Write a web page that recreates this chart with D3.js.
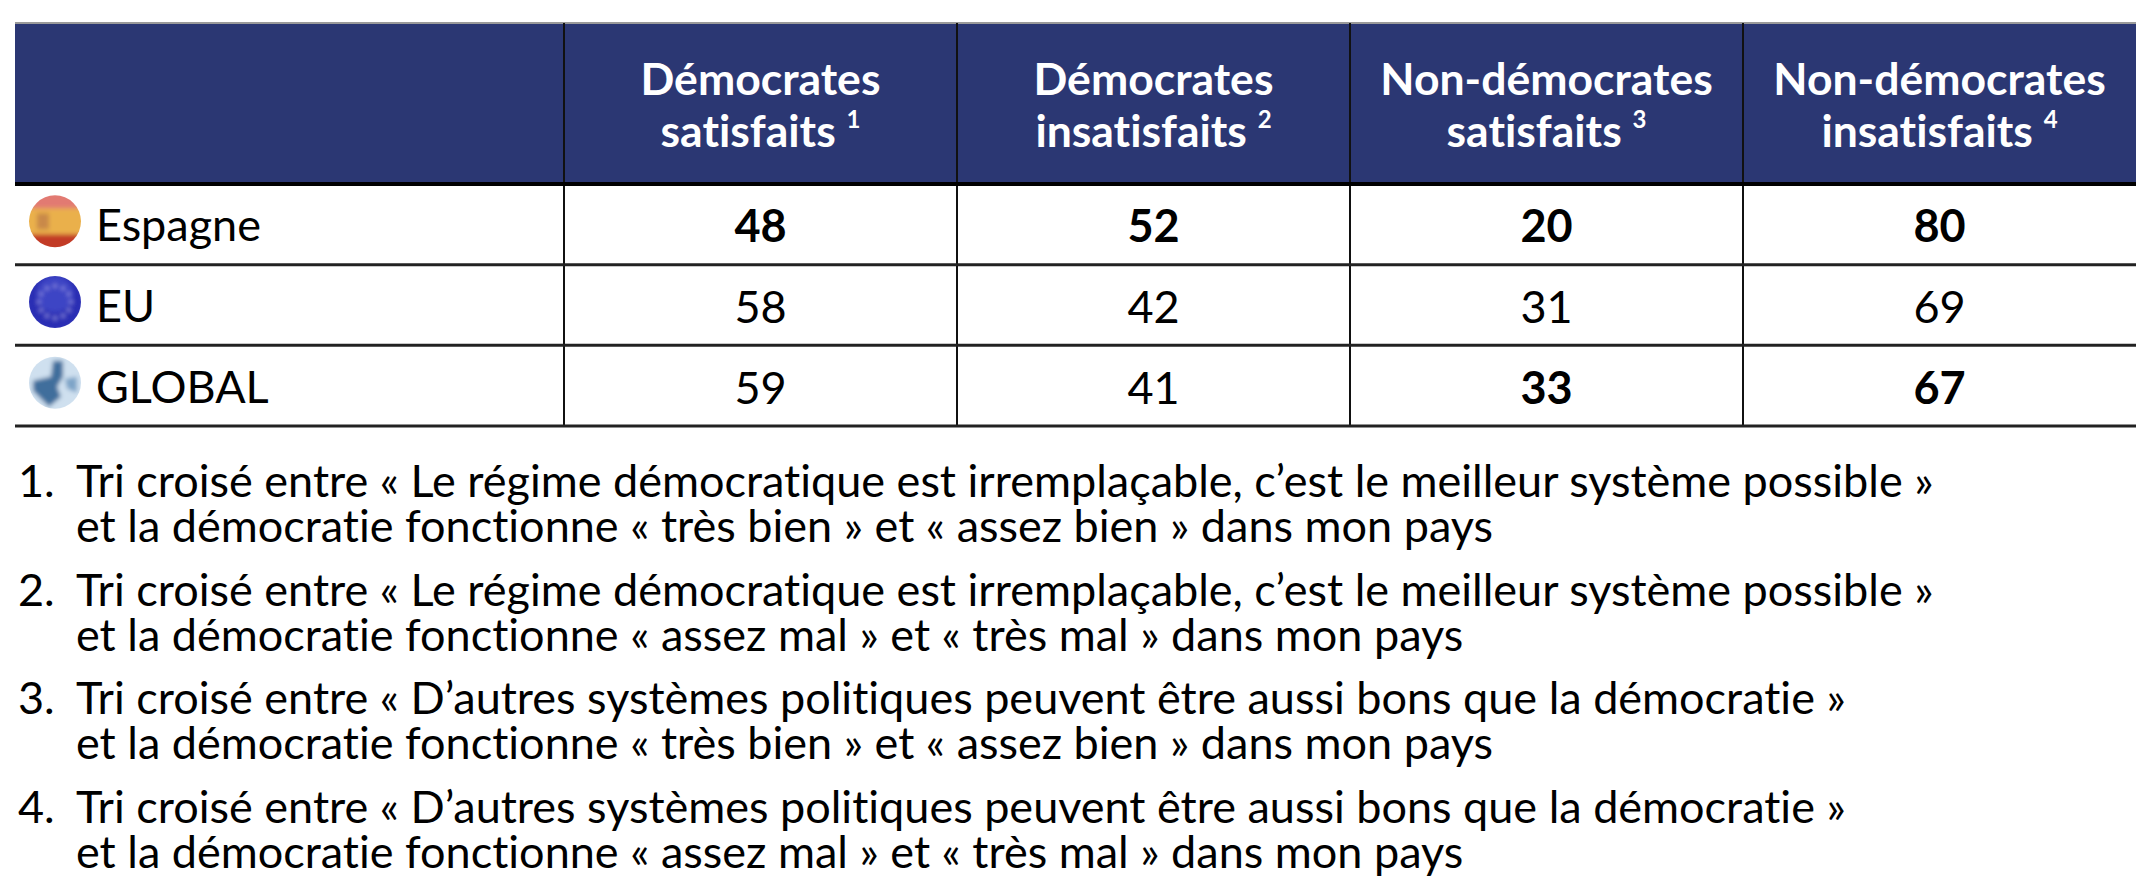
<!DOCTYPE html>
<html>
<head>
<meta charset="utf-8">
<script src="https://cdn.jsdelivr.net/npm/d3@7"></script>
<style>
  html, body { margin: 0; padding: 0; background: #fff; }
  text { font-family: Lato, "Noto Sans", sans-serif; font-variant-ligatures: none; }
</style>
</head>
<body>
<svg id="chart" width="2154" height="896"></svg>
<script>
// column headers (two lines each) and their footnote marks
var headerLine1 = ["Démocrates", "Démocrates", "Non-démocrates", "Non-démocrates"];
var headerLine2 = ["satisfaits", "insatisfaits", "satisfaits", "insatisfaits"];
var headerNotes = ["1", "2", "3", "4"];

var countries = ["Espagne", "EU", "GLOBAL"];

// values per column, one entry per country
var demSatisfaits = [48, 58, 59];
var demInsatisfaits = [52, 42, 41];
var nonDemSatisfaits = [20, 31, 33];
var nonDemInsatisfaits = [80, 69, 67];

// which cells are printed in bold
var boldEspagne = [true, true, true, true];
var boldEU = [false, false, false, false];
var boldGlobal = [false, false, true, true];

var footnotes = [
  ["Tri croisé entre « Le régime démocratique est irremplaçable, c’est le meilleur système possible »",
   "et la démocratie fonctionne « très bien » et « assez bien » dans mon pays"],
  ["Tri croisé entre « Le régime démocratique est irremplaçable, c’est le meilleur système possible »",
   "et la démocratie fonctionne « assez mal » et « très mal » dans mon pays"],
  ["Tri croisé entre « D’autres systèmes politiques peuvent être aussi bons que la démocratie »",
   "et la démocratie fonctionne « très bien » et « assez bien » dans mon pays"],
  ["Tri croisé entre « D’autres systèmes politiques peuvent être aussi bons que la démocratie »",
   "et la démocratie fonctionne « assez mal » et « très mal » dans mon pays"]
];

var series = [demSatisfaits, demInsatisfaits, nonDemSatisfaits, nonDemInsatisfaits];
var bolds = [boldEspagne, boldEU, boldGlobal];

var cells = [];
countries.forEach(function(c, i) {
  series.forEach(function(s, j) {
    cells.push({country: c, col: j, value: s[i], bold: bolds[i][j]});
  });
});

var svg = d3.select("#chart");
var navy = "#2b3773";

var tLeft = 15, tRight = 2136, firstColRight = 564;
var tTop = 23, headerBottom = 184, tableBottom = 426;

var x = d3.scaleBand().domain(d3.range(4)).range([firstColRight, tRight]);
var y = d3.scaleBand().domain(countries).range([headerBottom, tableBottom]);

// header band
svg.append("rect")
  .attr("x", tLeft).attr("y", tTop)
  .attr("width", tRight - tLeft).attr("height", headerBottom - tTop)
  .attr("fill", navy);

svg.append("line")
  .attr("x1", tLeft).attr("x2", tRight).attr("y1", tTop).attr("y2", tTop)
  .attr("stroke", "#9a9a9a").attr("stroke-width", 2);

// column separators
svg.selectAll(".vsep")
  .data(d3.range(4))
  .enter()
  .append("line")
    .attr("x1", function(d) { return x(d); })
    .attr("x2", function(d) { return x(d); })
    .attr("y1", tTop).attr("y2", tableBottom)
    .attr("stroke", "#111").attr("stroke-width", 2);

// row separators
svg.selectAll(".hsep")
  .data(countries)
  .enter()
  .append("line")
    .attr("x1", tLeft).attr("x2", tRight)
    .attr("y1", function(d) { return y(d) + y.bandwidth(); })
    .attr("y2", function(d) { return y(d) + y.bandwidth(); })
    .attr("stroke", "#222").attr("stroke-width", 3);

svg.append("line")
  .attr("x1", tLeft).attr("x2", tRight).attr("y1", headerBottom).attr("y2", headerBottom)
  .attr("stroke", "#000").attr("stroke-width", 4);

// header labels
var head = svg.selectAll(".head")
  .data(d3.range(4))
  .enter()
  .append("g")
    .attr("transform", function(d) { return "translate(" + (x(d) + x.bandwidth() / 2) + ",0)"; });

head.append("text")
  .attr("y", 95)
  .attr("text-anchor", "middle")
  .attr("fill", "#fff")
  .attr("font-weight", "bold")
  .attr("font-size", 44.5)
  .text(function(d) { return headerLine1[d]; });

var l2 = head.append("text")
  .attr("y", 147)
  .attr("text-anchor", "middle")
  .attr("fill", "#fff")
  .attr("font-weight", "bold")
  .attr("font-size", 44.5);
l2.append("tspan").text(function(d) { return headerLine2[d] + " "; });
l2.append("tspan")
  .attr("font-size", 24)
  .attr("dy", -19)
  .text(function(d) { return headerNotes[d]; });

// flags
var defs = svg.append("defs");
defs.append("filter").attr("id", "soft")
  .append("feGaussianBlur").attr("stdDeviation", 2);
countries.forEach(function(c, i) {
  defs.append("clipPath").attr("id", "clip" + i)
    .append("circle").attr("r", 26);
});

var flags = svg.selectAll(".flag")
  .data(countries)
  .enter()
  .append("g")
    .attr("transform", function(d) { return "translate(55," + (y(d) + y.bandwidth() / 2 - 3) + ")"; });

flags.each(function(d, i) {
  var g = d3.select(this).append("g")
    .attr("clip-path", "url(#clip" + i + ")");
  var inner = g.append("g").attr("filter", "url(#soft)");
  if (d === "Espagne") {
    inner.append("rect").attr("x", -30).attr("y", -30).attr("width", 60).attr("height", 18).attr("fill", "#e27a72");
    inner.append("rect").attr("x", -30).attr("y", -13).attr("width", 60).attr("height", 27).attr("fill", "#eab04c");
    inner.append("rect").attr("x", -18).attr("y", -8).attr("width", 12).attr("height", 16).attr("fill", "#c9894a");
    inner.append("rect").attr("x", -30).attr("y", 13).attr("width", 60).attr("height", 18).attr("fill", "#c23b26");
  } else if (d === "EU") {
    inner.append("circle").attr("r", 30).attr("fill", "#2b2fb4");
    inner.append("circle").attr("cy", -8).attr("r", 18).attr("fill", "#4a55d0").attr("opacity", 0.6);
    inner.selectAll("circle.star")
      .data(d3.range(12))
      .enter()
      .append("circle")
        .attr("cx", function(k) { return 16 * Math.cos(k * Math.PI / 6); })
        .attr("cy", function(k) { return 16 * Math.sin(k * Math.PI / 6); })
        .attr("r", 2)
        .attr("fill", "#8a8ae0");
  } else {
    inner.append("circle").attr("r", 30).attr("fill", "#cfe0ef");
    inner.append("path")
      .attr("d", "M-22,-2 L-4,-6 L-2,-22 L8,-22 L8,-6 L2,4 L6,14 L-6,24 L-14,16 L-22,8 Z")
      .attr("fill", "#3f6e9c");
    inner.append("path")
      .attr("d", "M10,-4 L22,-6 L22,10 L12,6 Z")
      .attr("fill", "#7ea4c8");
  }
});

// row labels
svg.selectAll(".label")
  .data(countries)
  .enter()
  .append("text")
    .attr("x", 96)
    .attr("y", function(d) { return y(d) + y.bandwidth() / 2 + 17; })
    .attr("font-size", 45)
    .attr("fill", "#000")
    .text(function(d) { return d; });

// values
svg.selectAll(".val")
  .data(cells)
  .enter()
  .append("text")
    .attr("x", function(d) { return x(d.col) + x.bandwidth() / 2; })
    .attr("y", function(d) { return y(d.country) + y.bandwidth() / 2 + 18; })
    .attr("text-anchor", "middle")
    .attr("font-size", 45)
    .attr("font-weight", function(d) { return d.bold ? "bold" : "normal"; })
    .attr("fill", "#000")
    .text(function(d) { return d.value; });

// footnotes
var notes = svg.selectAll(".note")
  .data(footnotes)
  .enter()
  .append("g")
    .attr("transform", function(d, i) { return "translate(0," + (497 + i * 108.7) + ")"; });

notes.append("text")
  .attr("x", 18)
  .attr("font-size", 45)
  .text(function(d, i) { return (i + 1) + "."; });

notes.append("text")
  .attr("x", 76)
  .attr("font-size", 45)
  .text(function(d) { return d[0]; });

notes.append("text")
  .attr("x", 76)
  .attr("y", 45)
  .attr("font-size", 45)
  .text(function(d) { return d[1]; });
</script>
</body>
</html>
